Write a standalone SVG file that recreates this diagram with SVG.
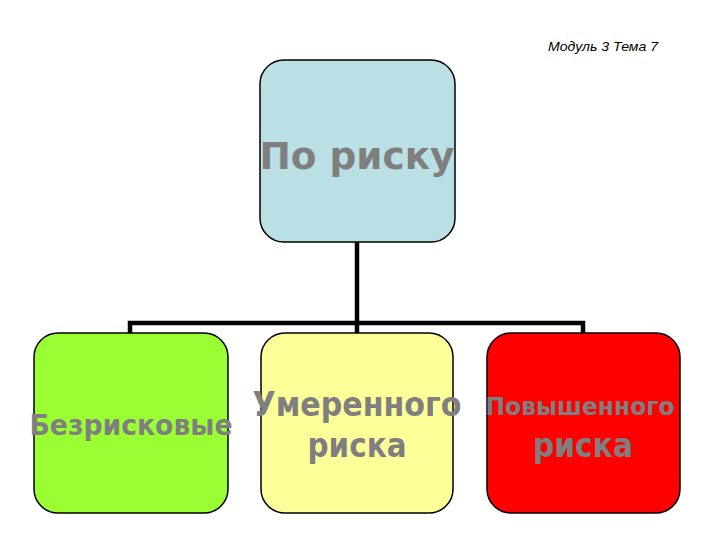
<svg xmlns="http://www.w3.org/2000/svg" width="720" height="540" viewBox="0 0 720 540">
<style>
.box{stroke:#000;stroke-width:1.5}
.lbl{font-family:"DejaVu Sans",Verdana,sans-serif;font-weight:bold;fill:#7f7f7f;text-anchor:middle}
.conn{stroke:#000;stroke-width:4.5;fill:none}
.hdr{font-family:"Liberation Sans",Arial,sans-serif;font-style:italic;font-size:13px;fill:#000}
</style>
<rect width="720" height="540" fill="#fff"/>
<text class="hdr" x="548" y="51" textLength="110" lengthAdjust="spacingAndGlyphs">Модуль 3 Тема 7</text>
<g id="connectors">
<path class="conn" d="M357,242 V334"/>
<path class="conn" d="M130,334 V323 H583 V334"/>
</g>
<g id="root">
<rect class="box" x="260" y="60" width="195" height="182" rx="24" fill="#badfe5"/>
<text class="lbl" x="357" y="169" font-size="37" textLength="195" lengthAdjust="spacingAndGlyphs">По риску</text>
</g>
<g id="riskfree">
<rect class="box" x="34" y="333" width="194" height="180" rx="24" fill="#99ff33"/>
<text class="lbl" x="131" y="435" font-size="28" textLength="203" lengthAdjust="spacingAndGlyphs">Безрисковые</text>
</g>
<g id="moderate">
<rect class="box" x="261" y="333" width="192" height="180" rx="24" fill="#ffff99"/>
<text class="lbl" x="357" y="416" font-size="33" textLength="209" lengthAdjust="spacingAndGlyphs">Умеренного</text>
<text class="lbl" x="357" y="457" font-size="33" textLength="99" lengthAdjust="spacingAndGlyphs">риска</text>
</g>
<g id="high">
<rect class="box" x="487" y="333" width="193" height="180" rx="24" fill="#ff0000"/>
<text class="lbl" x="580" y="415" font-size="25" textLength="189" lengthAdjust="spacingAndGlyphs">Повышенного</text>
<text class="lbl" x="583" y="457" font-size="33" textLength="100" lengthAdjust="spacingAndGlyphs">риска</text>
</g>
</svg>
